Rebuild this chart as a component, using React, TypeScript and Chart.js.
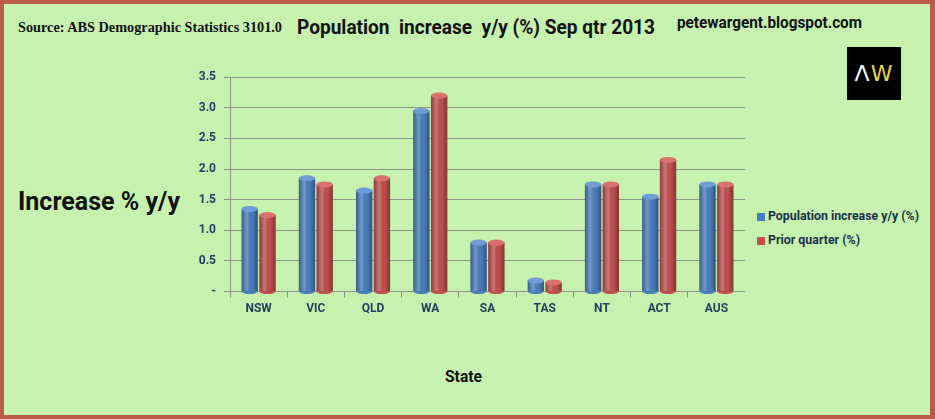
import { useEffect, useLayoutEffect, useRef } from "react";
import type { CSSProperties, ReactNode } from "react";
import { Chart, Plugin, registerables } from "chart.js";

Chart.register(...registerables);

const states = ["NSW", "VIC", "QLD", "WA", "SA", "TAS", "NT", "ACT", "AUS"];
const popIncrease = [1.35, 1.85, 1.65, 2.95, 0.8, 0.18, 1.75, 1.55, 1.75];
const priorQuarter = [1.25, 1.75, 1.85, 3.2, 0.8, 0.15, 1.75, 2.15, 1.75];
const yTicks = [0, 0.5, 1, 1.5, 2, 2.5, 3, 3.5];
const yTickLabels = ["-", "0.5", "1.0", "1.5", "2.0", "2.5", "3.0", "3.5"];
const seriesNames = ["Population increase y/y (%)", "Prior quarter (%)"];
const seriesColors = ["#4a7ebb", "#c0504d"];
const capColors = ["#6f9bd6", "#d9716e"];

const sans = "Roboto, 'Open Sans', sans-serif";
const tickColor = "#243f60";
const gridColor = "#8a9486";

// shading so the flat bars read a bit like the cylinders in the original
const cylinderShade: Plugin<"bar"> = {
  id: "cylinderShade",
  afterDatasetsDraw(chart) {
    const ctx = chart.ctx;
    chart.data.datasets.forEach((_, di) => {
      const meta = chart.getDatasetMeta(di);
      meta.data.forEach((el: any) => {
        const { x, y, base, width } = el.getProps(["x", "y", "base", "width"], true);
        const l = x - width / 2;
        const g = ctx.createLinearGradient(l, 0, l + width, 0);
        g.addColorStop(0, "rgba(0,0,0,0.28)");
        g.addColorStop(0.35, "rgba(255,255,255,0.22)");
        g.addColorStop(0.65, "rgba(0,0,0,0)");
        g.addColorStop(1, "rgba(0,0,0,0.32)");
        ctx.save();
        ctx.fillStyle = g;
        ctx.fillRect(l, y, width, base - y);
        ctx.beginPath();
        ctx.ellipse(x, base, width / 2, 3, 0, 0, Math.PI);
        ctx.fillStyle = seriesColors[di];
        ctx.fill();
        ctx.beginPath();
        ctx.ellipse(x, y, width / 2, 3, 0, 0, Math.PI * 2);
        ctx.fillStyle = capColors[di];
        ctx.fill();
        ctx.restore();
      });
    });
  },
};

// text squeezed horizontally to a target width (the original uses a narrow font)
function FitText({ w, style, children }: { w: number; style: CSSProperties; children: ReactNode }) {
  const ref = useRef<HTMLDivElement | null>(null);
  useLayoutEffect(() => {
    const el = ref.current;
    if (!el) return;
    el.style.transform = "";
    const actual = el.getBoundingClientRect().width;
    if (actual > 0) el.style.transform = `scaleX(${w / actual})`;
  });
  return (
    <div
      ref={ref}
      style={{ position: "absolute", whiteSpace: "nowrap", transformOrigin: "0 0", display: "inline-block", ...style }}
    >
      {children}
    </div>
  );
}

function StateChart() {
  const canvasRef = useRef<HTMLCanvasElement | null>(null);
  useEffect(() => {
    if (!canvasRef.current) return;
    const chart = new Chart(canvasRef.current, {
      type: "bar",
      data: {
        labels: states,
        datasets: [
          { label: seriesNames[0], data: popIncrease, backgroundColor: seriesColors[0] },
          { label: seriesNames[1], data: priorQuarter, backgroundColor: seriesColors[1] },
        ],
      },
      options: {
        responsive: false,
        animation: false,
        layout: { padding: { top: 10, right: 0, bottom: 0, left: 0 } },
        datasets: { bar: { categoryPercentage: 0.62, barPercentage: 0.92 } },
        plugins: { legend: { display: false }, tooltip: { enabled: false } },
        scales: {
          x: {
            grid: { display: true, drawOnChartArea: false, color: gridColor, tickLength: 6, offset: true },
            border: { color: gridColor },
            ticks: { color: tickColor, font: { family: sans, size: 12, weight: "bold" }, padding: 4 },
          },
          y: {
            min: 0,
            max: 3.5,
            afterFit: (scale) => {
              scale.width = 50;
            },
            afterBuildTicks: (scale) => {
              scale.ticks = yTicks.map((v) => ({ value: v }));
            },
            grid: { color: gridColor, tickLength: 6 },
            border: { color: gridColor },
            ticks: {
              color: tickColor,
              font: { family: sans, size: 12, weight: "bold" },
              padding: 8,
              callback: (v) => yTickLabels[yTicks.indexOf(Number(v))] ?? "",
            },
          },
        },
      },
      plugins: [cylinderShade],
    });
    return () => chart.destroy();
  }, []);
  return (
    <canvas
      ref={canvasRef}
      width={565}
      height={258}
      style={{ position: "absolute", left: 176, top: 58, width: 565, height: 258 }}
    />
  );
}

export default function App() {
  return (
    <div
      style={{
        position: "absolute",
        left: 0,
        top: 0,
        width: 935,
        height: 419,
        boxSizing: "border-box",
        border: "4px solid #b95c4a",
        borderRightWidth: 5,
        background: "#c6f1ae",
        overflow: "hidden",
      }}
    >
      <FitText w={264} style={{ left: 14, top: 16, font: "bold 14px 'Liberation Serif', serif", color: "#111" }}>
        Source: ABS Demographic Statistics 3101.0
      </FitText>
      <FitText w={358} style={{ left: 293, top: 11, font: `bold 21px ${sans}`, color: "#111" }}>
        Population&nbsp; increase&nbsp; y/y (%) Sep qtr 2013
      </FitText>
      <FitText w={185} style={{ left: 673, top: 9, font: `bold 16px ${sans}`, color: "#111" }}>
        petewargent.blogspot.com
      </FitText>
      <div
        style={{
          position: "absolute",
          left: 843,
          top: 43,
          width: 54,
          height: 53,
          background: "#000",
          font: "22px 'DejaVu Sans', sans-serif",
          lineHeight: "53px",
          textAlign: "center",
          letterSpacing: 1,
        }}
      >
        <span style={{ color: "#fff" }}>Λ</span>
        <span style={{ color: "#e8d44d" }}>W</span>
      </div>
      <FitText w={162} style={{ left: 14, top: 182, font: `bold 26px ${sans}`, color: "#111" }}>
        Increase % y/y
      </FitText>
      <FitText w={37} style={{ left: 441, top: 362, font: `bold 17px ${sans}`, color: "#111" }}>
        State
      </FitText>
      <StateChart />
      {seriesNames.map((name, i) => (
        <div key={name}>
          <span
            style={{
              position: "absolute",
              left: 753,
              top: 209 + i * 24,
              width: 8,
              height: 8,
              background: seriesColors[i],
            }}
          />
          <FitText
            w={i === 0 ? 151 : 92}
            style={{ left: 764, top: 204 + i * 24, font: `bold 13px ${sans}`, color: "#1c2f4a" }}
          >
            {name}
          </FitText>
        </div>
      ))}
    </div>
  );
}
